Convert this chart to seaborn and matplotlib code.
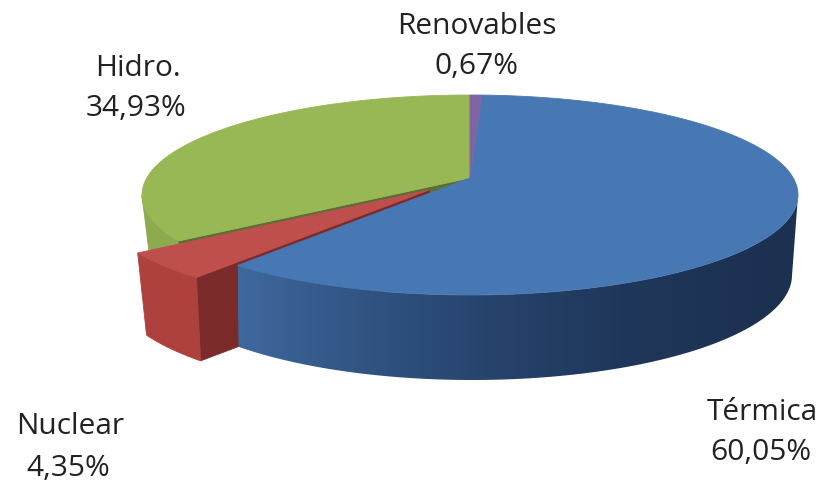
import numpy as np
import matplotlib
matplotlib.use("Agg")
import matplotlib.pyplot as plt
from matplotlib.colors import LinearSegmentedColormap
from matplotlib.patches import Polygon
import seaborn as sns

labels = ["Renovables", "Térmica", "Nuclear", "Hidro."]
shares = [0.67, 60.05, 4.35, 34.93]
value_text = ["0,67%", "60,05%", "4,35%", "34,93%"]
top_colors = ["#8064A2", "#4878B4", "#BF4F4C", "#98B856"]

sns.set_theme(style="white")
plt.rcParams["font.family"] = ["Open Sans", "DejaVu Sans"]

fig, ax = plt.subplots(figsize=(8.22, 4.83), dpi=100)
fig.subplots_adjust(0, 0, 1, 1)
ax.axis("off")

# projection of the tilted disc, in picture units
TOP = dict(apex=(470, 178), c=(470, 195), r=(328, 100))
BOT = dict(apex=(472, 259), c=(472, 275), r=(320, 105))
RATIO = 3.33
EXPLODE_TOP = np.array([-41, 12])
EXPLODE_BOT = np.array([-38, 14])
# pie angles where the side of the disc turns away from the viewer
SIDE_RIGHT = 100
SIDE_LEFT = 260


def rim(theta, g):
    """Point of an ellipse g seen from its apex along pie angle theta (deg, clockwise from top)."""
    th = np.radians(np.atleast_1d(theta))
    dx, dy = RATIO * np.sin(th), -np.cos(th)
    ax0, ay0 = g["apex"][0] - g["c"][0], g["apex"][1] - g["c"][1]
    rx, ry = g["r"]
    A = (dx / rx) ** 2 + (dy / ry) ** 2
    B = 2 * (ax0 * dx / rx**2 + ay0 * dy / ry**2)
    C = (ax0 / rx) ** 2 + (ay0 / ry) ** 2 - 1
    t = (-B + np.sqrt(B**2 - 4 * A * C)) / (2 * A)
    return np.column_stack([g["apex"][0] + t * dx, g["apex"][1] + t * dy])


def wedge(a0, a1, g, shift=(0, 0)):
    pts = rim(np.linspace(a0, a1, 200), g)
    return np.vstack([[g["apex"]], pts]) + np.array(shift)


def fill(pts, color, z, lw=0.6):
    p = Polygon(pts, closed=True, facecolor=color, edgecolor=color, lw=lw, zorder=z)
    ax.add_patch(p)
    return p


def side_outline(a0, a1, shift_top=(0, 0), shift_bot=(0, 0)):
    angles = np.linspace(a0, a1, 240)
    return np.vstack([rim(angles, TOP) + np.array(shift_top), (rim(angles, BOT) + np.array(shift_bot))[::-1]])


edges = np.concatenate([[0], np.cumsum(shares)]) * 3.6
ren, term, nuc, hid = [(edges[i], edges[i + 1]) for i in range(4)]

blue_side = LinearSegmentedColormap.from_list(
    "bs", [(0, "#3E689E"), (0.17, "#345888"), (0.42, "#27456F"), (0.68, "#1F375A"), (1, "#1C304F")]
)

# hydro side, inner face and top
fill(side_outline(hid[0], SIDE_LEFT), "#8CAA4E", 1)
fill(np.vstack([wedge(hid[0], hid[0], TOP)[::-1], wedge(hid[0], hid[0], BOT)]), "#5C6E34", 1.5)
fill(wedge(hid[0], hid[1], TOP), top_colors[3], 2)

# exploded nuclear slice
fill(np.vstack([wedge(nuc[0], nuc[0], TOP, EXPLODE_TOP)[::-1], wedge(nuc[0], nuc[0], BOT, EXPLODE_BOT)]), "#7B2C2A", 3)
fill(side_outline(nuc[0], nuc[1], EXPLODE_TOP, EXPLODE_BOT), "#AE403D", 3.5)
fill(wedge(nuc[0], nuc[1], TOP, EXPLODE_TOP), top_colors[2], 4)

# thermal side with a horizontal shading, clipped to the side outline
clip = Polygon(side_outline(SIDE_RIGHT, term[1]), closed=True, facecolor="none", edgecolor="none", zorder=5)
ax.add_patch(clip)
gradient = np.linspace(0, 1, 400).reshape(1, -1)
im = ax.imshow(gradient, cmap=blue_side, extent=(238, 800, 385, 90), aspect="auto", zorder=5, interpolation="bilinear")
im.set_clip_path(clip)
fill(wedge(term[0], term[1], TOP), top_colors[1], 6)

# renewables top
fill(wedge(ren[0], ren[1], TOP), top_colors[0], 7)

ax.set_xlim(0, 822)
ax.set_ylim(483, 0)

# labels: name on one line, value on the next
spots = {
    "Renovables": ((477, 27), (476, 66)),
    "Térmica": ((762, 413), (761, 452)),
    "Nuclear": ((70, 426), (68, 468)),
    "Hidro.": ((138, 68), (136, 109)),
}
for name, val in zip(labels, value_text):
    (x0, y0), (x1, y1) = spots[name]
    ax.text(x0, y0, name, ha="center", va="center", fontsize=21.5, color="#222222")
    ax.text(x1, y1, val, ha="center", va="center", fontsize=21.5, color="#222222")

fig.savefig("out.png", dpi=100)
